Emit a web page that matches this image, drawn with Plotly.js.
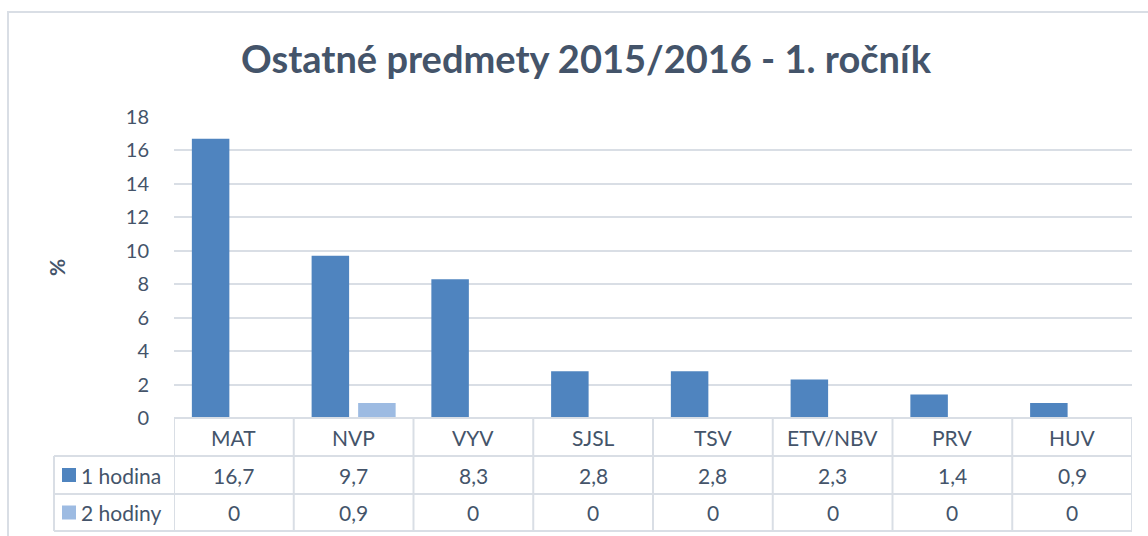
<!DOCTYPE html>
<html>
<head>
<meta charset="utf-8">
<script src="https://cdn.plot.ly/plotly-3.0.1.min.js"></script>
<style>html,body{margin:0;padding:0;background:#fff;}#chart{width:1148px;height:536px;}</style>
</head>
<body>
<div id="chart"></div>
<script>
// ---- data ----
const categories = ['MAT', 'NVP', 'VYV', 'SJSL', 'TSV', 'ETV/NBV', 'PRV', 'HUV'];
const seriesNames = ['1 hodina', '2 hodiny'];
const hodina1 = [16.7, 9.7, 8.3, 2.8, 2.8, 2.3, 1.4, 0.9];
const hodiny2 = [0, 0.9, 0, 0, 0, 0, 0, 0];
const titleText = 'Ostatné predmety 2015/2016 - 1. ročník';
const yTitle = '%';

// ---- style ----
const W = 1148, H = 536;
const M = {l: 174, r: 16, t: 117, b: 118};
const textColor = '#44546a';
const gridColor = '#d9dee5';
const colors = ['#4f84bf', '#9dbbe2'];
const FONT = 'Lato, "Open Sans", sans-serif';

const plotW = W - M.l - M.r, plotH = H - M.t - M.b;
const px = x => (x - M.l) / plotW;          // pixel x -> paper x
const py = y => (H - M.b - y) / plotH;      // pixel y -> paper y

const fmt = v => String(v).replace('.', ',');

const traces = [
  {type: 'bar', name: seriesNames[0], x: categories, y: hodina1, marker: {color: colors[0]}, hoverinfo: 'x+y+name'},
  {type: 'bar', name: seriesNames[1], x: categories, y: hodiny2, marker: {color: colors[1]}, hoverinfo: 'x+y+name'}
];

// table geometry (pixels)
const rowY = [418, 456, 494, 531];
const leftX = 54;
const lineStyle = {color: gridColor, width: 2};
const shapes = [];
const annotations = [];

// outer chart border
shapes.push({type: 'rect', xref: 'paper', yref: 'paper', x0: px(8), x1: px(1160), y0: py(12), y1: py(560), line: {color: gridColor, width: 2}, fillcolor: 'rgba(0,0,0,0)', layer: 'below'});

// horizontal table lines
shapes.push({type: 'line', xref: 'x', yref: 'paper', x0: -0.5, x1: categories.length - 0.5, y0: py(rowY[0]), y1: py(rowY[0]), line: lineStyle});
for (let r = 1; r < rowY.length; r++) {
  shapes.push({type: 'line', xref: 'paper', yref: 'paper', x0: px(leftX), x1: 1, y0: py(rowY[r]), y1: py(rowY[r]), line: lineStyle});
}
// vertical table lines
for (let i = 0; i <= categories.length; i++) {
  shapes.push({type: 'line', xref: 'x', yref: 'paper', x0: i - 0.5, x1: i - 0.5, y0: py(rowY[0]), y1: py(rowY[3]), line: lineStyle});
}
shapes.push({type: 'line', xref: 'paper', yref: 'paper', x0: px(leftX), x1: px(leftX), y0: py(rowY[1]), y1: py(rowY[3]), line: lineStyle});

// header labels and values
const rowsData = [hodina1, hodiny2];
const tFont = {family: FONT, size: 21, color: textColor};
categories.forEach((c, i) => {
  annotations.push({xref: 'x', yref: 'paper', x: c, y: py((rowY[0] + rowY[1]) / 2), text: c, showarrow: false, font: tFont, xanchor: 'center', yanchor: 'middle'});
  rowsData.forEach((arr, r) => {
    annotations.push({xref: 'x', yref: 'paper', x: c, y: py((rowY[r + 1] + rowY[r + 2]) / 2), text: fmt(arr[i]), showarrow: false, font: tFont, xanchor: 'center', yanchor: 'middle'});
  });
});
// legend keys in table
seriesNames.forEach((n, r) => {
  const yc = (rowY[r + 1] + rowY[r + 2]) / 2;
  shapes.push({type: 'rect', xref: 'paper', yref: 'paper', x0: px(62), x1: px(76), y0: py(yc - 7), y1: py(yc + 7), fillcolor: colors[r], line: {width: 0}});
  annotations.push({xref: 'paper', yref: 'paper', x: px(79), y: py(yc), text: n, showarrow: false, font: tFont, xanchor: 'left', yanchor: 'middle'});
});

const layout = {
  width: W, height: H,
  margin: M,
  paper_bgcolor: '#ffffff', plot_bgcolor: '#ffffff',
  font: {family: FONT, color: textColor},
  showlegend: false,
  title: {text: '<b>' + titleText + '</b>', xref: 'container', x: 586 / W, xanchor: 'center', yref: 'container', y: 1 - 60 / H, yanchor: 'middle', font: {family: FONT, size: 38, color: textColor}},
  barmode: 'group',
  bargap: 0.223,
  bargroupgap: 0.194,
  xaxis: {type: 'category', range: [-0.5, categories.length - 0.5], showticklabels: false, showgrid: false, zeroline: false, showline: false, ticks: '', fixedrange: true},
  yaxis: {range: [0, 18], dtick: 2, tick0: 0, showgrid: true, gridcolor: gridColor, gridwidth: 2, zeroline: false, showline: false,
          ticks: 'outside', ticklen: 20, tickcolor: 'rgba(0,0,0,0)', tickfont: {family: FONT, size: 20, color: textColor},
          title: {text: '<b>' + yTitle + '</b>', standoff: 54, font: {family: FONT, size: 21, color: textColor}}, fixedrange: true},
  shapes: shapes,
  annotations: annotations
};

Plotly.newPlot('chart', traces, layout, {displayModeBar: false, staticPlot: true});
</script>
</body>
</html>
